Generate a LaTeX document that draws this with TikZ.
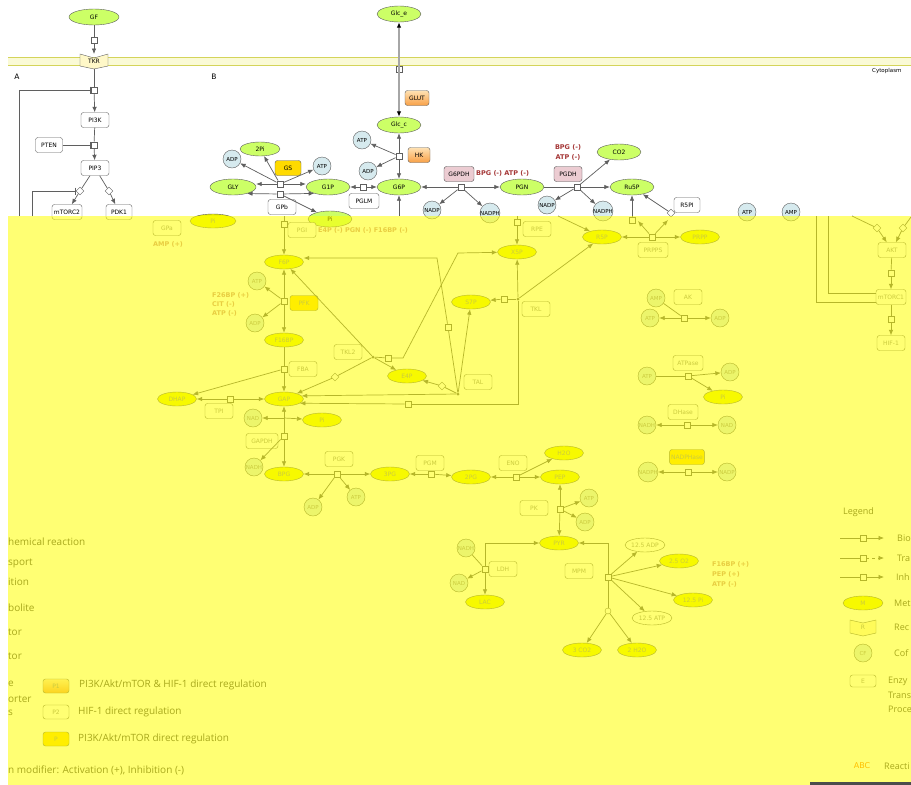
\documentclass[tikz,border=0pt]{standalone}
\usepackage{fontspec}
\setmainfont{DejaVu Sans}
\newfontfamily\legfont{Open Sans}
\usetikzlibrary{arrows.meta,shapes.geometric}

\definecolor{metab}{RGB}{204,255,102}
\definecolor{metabv}{RGB}{238,242,0}
\definecolor{cofac}{RGB}{214,234,238}
\definecolor{gold}{RGB}{255,218,0}
\definecolor{pinkenz}{RGB}{236,204,210}
\definecolor{orangetop}{RGB}{255,226,180}
\definecolor{orangebot}{RGB}{248,160,70}
\definecolor{modred}{RGB}{165,55,55}
\definecolor{membr}{RGB}{212,212,90}
\definecolor{membfill}{RGB}{250,250,214}
\definecolor{edge}{RGB}{95,95,95}
\definecolor{recfill}{RGB}{255,248,200}
\definecolor{veil}{RGB}{255,255,0}

\tikzset{
  met/.style={ellipse, draw=edge, fill=metab, minimum width=44pt, minimum height=16pt, inner sep=0pt, font=\fontsize{6}{7}\selectfont},
  metw/.style={met, fill=white},
  cof/.style={circle, draw=edge, fill=cofac, minimum size=18pt, inner sep=0pt, font=\fontsize{5.5}{6}\selectfont},
  enz/.style={rectangle, rounded corners=2.5pt, draw=edge, fill=white, minimum width=28pt, minimum height=15pt, inner sep=1.5pt, font=\fontsize{6}{7}\selectfont},
  enzg/.style={enz, fill=gold},
  enzo/.style={enz, top color=orangetop, bottom color=orangebot},
  enzp/.style={enz, fill=pinkenz, draw=black!70},
  rec/.style={rectangle, minimum width=28pt, minimum height=14pt, inner sep=0pt, font=\fontsize{6}{7}\selectfont},
  rx/.style={rectangle, draw=edge, fill=white, minimum size=6.5pt, inner sep=0pt},
  dmd/.style={diamond, draw=edge, fill=white, minimum size=8pt, inner sep=0pt},
  dot/.style={circle, fill=edge, minimum size=3pt, inner sep=0pt},
  mod/.style={text=modred, inner sep=0pt, font=\bfseries\fontsize{6.5}{7.5}\selectfont},
  ln/.style={draw=edge, line width=0.7pt},
  arr/.style={ln, -{Latex[length=5.5pt,width=4.5pt]}},
  inh/.style={ln, -{Bar[width=7pt]}},
  trans/.style={draw=gray!70, line width=1.3pt, {Latex[length=5.5pt,width=4.5pt,color=black]}-{Latex[length=5.5pt,width=4.5pt,color=black]}},
  leg/.style={anchor=west, inner sep=0pt, text=black!75, font=\legfont\fontsize{10}{12}\selectfont},
  legr/.style={leg, font=\legfont\fontsize{9}{11}\selectfont}
}

\begin{document}
\begin{tikzpicture}[x=1pt,y=-1pt]
\useasboundingbox[fill=white] (0,0) rectangle (911,785);

% membrane
\fill[membfill] (8,57) rectangle (911,65);
\draw[membr, line width=1pt] (8,57) -- (911,57) (8,65) -- (911,65);
\node[anchor=east, font=\fontsize{5.5}{6}\selectfont] (cyto) at (905,71) {Cytoplasm};
\node[font=\fontsize{7.5}{8}\selectfont] (labA) at (17,77) {A};
\node[font=\fontsize{7.5}{8}\selectfont] (labB) at (214,77) {B};

% A: growth factor signalling
\node[met, minimum width=50pt] (GF) at (94,17) {GF};
\node[rx] (rxA1) at (94,40) {};
\fill[recfill, draw=edge] (80,54) -- (94,58) -- (108,54) -- (108,66) -- (94,69) -- (80,66) -- cycle;
\node[rec] (TKR) at (94,61) {TKR};
\node[rx] (rxA2) at (94,90) {};
\node[enz] (PI3K) at (95,120) {PI3K};
\node[enz, minimum width=27pt] (PTEN) at (49,145) {PTEN};
\node[rx] (rxA3) at (94,145) {};
\node[enz] (PIP3) at (95,168) {PIP3};
\node[dmd] (dA1) at (80,191) {};
\node[dmd] (dA2) at (109,191) {};
\node[enz, minimum width=30pt] (mTORC2) at (67,212) {mTORC2};
\node[enz, minimum width=26pt] (PDK1) at (119,212) {PDK1};
\coordinate (fbA) at (19,216);
\coordinate (fbB) at (32,216);

\draw[ln] (GF) -- (rxA1);
\draw[arr] (rxA1) -- (94,54);
\draw[ln] (94,69) -- (rxA2);
\draw[arr] (rxA2) -- (PI3K);
\draw[inh] (fbA) |- (rxA2);
\draw[ln] (PI3K) -- (rxA3);
\draw[arr] (rxA3) -- (PIP3);
\draw[inh] (PTEN) -- (rxA3);
\draw[ln] (PIP3) -- (dA1);
\draw[arr] (dA1) -- (mTORC2);
\draw[ln] (PIP3) -- (dA2);
\draw[arr] (dA2) -- (PDK1);
\draw[inh] (fbB) |- (dA1);

% B: glucose uptake and glycogen
\node[met] (Glce) at (399,14) {Glc\_e};
\node[rx] (rxT) at (399,69) {};
\node[enzo, minimum width=24pt] (GLUT) at (417,98) {GLUT};
\node[met] (Glcc) at (399,125) {Glc\_c};
\node[rx] (rxHK) at (399,156) {};
\node[enzo, minimum width=22pt] (HK) at (419,155) {HK};
\node[cof] (ATP1) at (362,140) {ATP};
\node[cof] (ADP1) at (368,171) {ADP};
\node[met] (G6P) at (399,187) {G6P};
\coordinate (inG6P) at (399,216);
\node[rx] (rxPGLM) at (363,187) {};
\node[enz, minimum width=30pt] (PGLM) at (364,201) {PGLM};
\node[met] (G1P) at (328,187) {G1P};
\node[met, minimum width=46pt] (GLY) at (233,187) {GLY};
\node[rx] (rxGS) at (280,184) {};
\node[rx] (rxGP) at (280,194) {};
\node[enzg, minimum width=26pt] (GS) at (288,168) {GS};
\node[enz] (GPb) at (282,207) {GPb};
\node[cof] (ADP2) at (232,159) {ADP};
\node[met, minimum width=40pt, minimum height=14pt] (twoPi) at (260,149) {2Pi};
\node[cof] (ATP2) at (322,166) {ATP};
\node[met] (Pi1) at (330,219) {Pi};

\draw[trans] (Glce) -- (Glcc);
\draw[arr] (rxHK) -- (Glcc);
\draw[arr] (rxHK) -- (G6P);
\draw[arr] (rxHK) -- (ATP1);
\draw[arr] (rxHK) -- (ADP1);
\draw[arr] (inG6P) -- (G6P);
\draw[arr] (rxPGLM) -- (G1P);
\draw[arr] (rxPGLM) -- (G6P);
\draw[arr] (rxGS) -- (rxGS -| GLY.east);
\draw[arr] (rxGS) -- (rxGS -| G1P.west);
\draw[arr] (rxGP) -- (GLY.-25);
\draw[arr] (rxGP) -- (G1P.205);
\draw[arr] (rxGS) -- (ADP2);
\draw[arr] (rxGS) -- (twoPi);
\draw[arr] (rxGS) -- (ATP2);
\draw[arr] (rxGP) -- (Pi1);

% B: oxidative pentose phosphate branch
\node[enzp, minimum width=30pt] (G6PDH) at (459,174) {G6PDH};
\node[mod, anchor=west] (mG6PDH) at (476,173) {BPG (-) ATP (-)};
\node[rx] (rxG6PDH) at (461,187) {};
\node[cof] (NADP1) at (432,210) {NADP};
\node[cof] (NADPH1) at (490,213) {NADPH};
\node[met] (PGN) at (522,187) {PGN};
\node[enzp] (PGDH) at (568,174) {PGDH};
\node[mod] (mPGDH1) at (568,147) {BPG (-)};
\node[mod] (mPGDH2) at (568,157) {ATP (-)};
\node[rx] (rxPGDH) at (577,187) {};
\node[met] (CO2) at (619,152) {CO2};
\node[met] (Ru5P) at (632,187) {Ru5P};
\node[cof] (NADP2) at (547,205) {NADP};
\node[cof] (NADPH2) at (603,211) {NADPH};
\node[enz, minimum width=26pt] (R5PI) at (687,205) {R5PI};
\node[dmd] (dR5PI) at (671,213) {};
\node[rx] (rxRu) at (632,220) {};
\node[cof] (ATP3) at (747,212) {ATP};
\node[cof] (AMP1) at (791,212) {AMP};

\draw[arr] (rxG6PDH) -- (G6P);
\draw[arr] (rxG6PDH) -- (PGN);
\draw[arr] (rxG6PDH) -- (NADP1);
\draw[arr] (rxG6PDH) -- (NADPH1);
\draw[ln] (PGN) -- (rxPGDH);
\draw[arr] (rxPGDH) -- (Ru5P);
\draw[arr] (rxPGDH) -- (CO2);
\draw[arr] (rxPGDH) -- (NADP2);
\draw[arr] (rxPGDH) -- (NADPH2);
\draw[arr] (rxRu) -- (Ru5P);
\draw[arr] (dR5PI) -- (Ru5P);

\begin{scope}[every node/.append style={text=black!45},
  met/.append style={fill=metabv, minimum width=39pt, minimum height=14pt},
  mod/.append style={text=modred!55}]
% glycolysis (veiled part)
\node[enz] (GPa) at (167,228) {GPa};
\node[mod] (mGPa) at (168,244) {AMP (+)};
\node[met, minimum width=46pt] (Pi0) at (213,221) {Pi};
\node[rx] (rxPGI) at (284,224) {};
\coordinate (inPGI) at (284,216);
\node[enz] (PGI) at (302,230) {PGI};
\node[mod, anchor=west] (mPGI) at (318,230) {E4P (-) PGN (-) F16BP (-)};
\node[met] (F6P) at (284,262) {F6P};
\node[cof] (ATP4) at (257,281) {ATP};
\node[cof] (ADP4) at (255,323) {ADP};
\node[rx] (rxPFK) at (284,301) {};
\node[enzg] (PFK) at (304,303) {PFK};
\node[mod, anchor=west] (mPFK1) at (212,295) {F26BP (+)};
\node[mod, anchor=west] (mPFK2) at (212,304) {CIT (-)};
\node[mod, anchor=west] (mPFK3) at (212,313) {ATP (-)};
\node[met] (F16BP) at (284,340) {F16BP};
\node[rx] (rxFBA) at (284,369) {};
\node[enz] (FBA) at (303,369) {FBA};
\node[met] (DHAP) at (177,399) {DHAP};
\node[met] (GAP) at (284,399) {GAP};
\node[rx] (rxTPI) at (230,399) {};
\node[enz] (TPI) at (219,411) {TPI};
\coordinate (gpt) at (284,418);
\node[cof] (NAD1) at (253,418) {NAD};
\node[met] (Pi2) at (322,420) {Pi};
\node[rx] (rxGAPDH) at (284,436) {};
\node[enz, minimum width=32pt] (GAPDH) at (262,441) {GAPDH};
\node[cof] (NADH1) at (254,467) {NADH};
\node[met] (BPG) at (284,474) {BPG};
\node[rx] (rxPGK) at (337,474) {};
\node[enz] (PGK) at (339,459) {PGK};
\node[cof] (ADP5) at (313,507) {ADP};
\node[cof] (ATP5) at (356,497) {ATP};
\node[met] (threePG) at (390,474) {3PG};
\node[rx] (rxPGM) at (431,474) {};
\node[enz] (PGM) at (430,463) {PGM};
\node[met] (twoPG) at (471,477) {2PG};
\node[rx] (rxENO) at (516,477) {};
\node[enz] (ENO) at (513,463) {ENO};
\node[met] (H2O) at (564,453) {H2O};
\node[met] (PEP) at (560,477) {PEP};
\node[rx] (rxPK) at (560,509) {};
\node[enz] (PK) at (534,508) {PK};
\node[cof] (ATP6) at (589,498) {ATP};
\node[cof] (ADP6) at (585,522) {ADP};
\node[met] (PYR) at (559,543) {PYR};
\node[rx] (rxLDH) at (485,569) {};
\node[enz] (LDH) at (503,569) {LDH};
\node[met] (LAC) at (485,602) {LAC};
\node[cof] (NADH2) at (466,548) {NADH};
\node[cof] (NAD2) at (459,583) {NAD};
\node[rx] (rxMPM) at (608,577) {};
\node[enz] (MPM) at (579,571) {MPM};
\node[metw, minimum width=40pt] (ADP7) at (645,545) {12.5 ADP};
\node[met] (O2) at (679,561) {2.5 O2};
\node[met] (Pi3) at (693,600) {12.5 Pi};
\node[metw, minimum width=40pt] (ATP7) at (652,618) {12.5 ATP};
\node[circle, draw=edge, fill=white, minimum size=6pt, inner sep=0pt] (sMPM) at (608,611) {};
\node[met] (CO2b) at (582,650) {3 CO2};
\node[met] (H2Ob) at (637,650) {2 H2O};
\node[mod, anchor=west] (mMPM1) at (712,564) {F16BP (+)};
\node[mod, anchor=west] (mMPM2) at (712,574) {PEP (+)};
\node[mod, anchor=west] (mMPM3) at (712,584) {ATP (-)};

\draw[ln] (rxPGI) -- (inPGI);
\draw[arr] (rxPGI) -- (F6P);
\draw[arr] (rxPFK) -- (F6P);
\draw[arr] (rxPFK) -- (F16BP);
\draw[arr] (rxPFK) -- (ATP4);
\draw[arr] (rxPFK) -- (ADP4);
\draw[ln] (F16BP) -- (rxFBA);
\draw[arr] (rxFBA) -- (GAP);
\draw[arr] (rxFBA) -- (DHAP);
\draw[arr] (rxTPI) -- (DHAP);
\draw[arr] (rxTPI) -- (GAP);
\draw[arr] (rxGAPDH) -- (GAP);
\draw[arr] (gpt) -- (NAD1);
\draw[arr] (gpt) -- (Pi2);
\draw[arr] (rxGAPDH) -- (BPG);
\draw[arr] (rxGAPDH) -- (NADH1);
\draw[arr] (rxPGK) -- (BPG);
\draw[arr] (rxPGK) -- (threePG);
\draw[arr] (rxPGK) -- (ADP5);
\draw[arr] (rxPGK) -- (ATP5);
\draw[arr] (rxPGM) -- (threePG);
\draw[arr] (rxPGM) -- (twoPG);
\draw[arr] (rxENO) -- (twoPG);
\draw[arr] (rxENO) -- (PEP);
\draw[arr] (rxENO) -- (H2O);
\draw[arr] (rxPK) -- (PEP);
\draw[arr] (rxPK) -- (PYR);
\draw[arr] (rxPK) -- (ATP6);
\draw[arr] (rxPK) -- (ADP6);
\draw[arr] (rxLDH) |- (PYR);
\draw[arr] (rxLDH) -- (LAC);
\draw[ln] (NADH2) -- (rxLDH);
\draw[arr] (rxLDH) -- (NAD2);
\draw[arr] (rxMPM) |- (PYR);
\draw[arr] (rxMPM) -- (ADP7);
\draw[arr] (rxMPM) -- (O2);
\draw[arr] (rxMPM) -- (Pi3);
\draw[arr] (rxMPM) -- (ATP7);
\draw[ln] (rxMPM) -- (sMPM);
\draw[arr] (sMPM) -- (CO2b);
\draw[arr] (sMPM) -- (H2Ob);

% non-oxidative pentose phosphate branch (veiled part)
\node[rx] (rxRPE) at (517,222) {};
\coordinate (inRPE) at (517,216);
\node[enz] (RPE) at (537,229) {RPE};
\node[met] (X5P) at (517,252) {X5P};
\node[met] (R5P) at (602,237) {R5P};
\coordinate (inR5P) at (558,216);
\node[rx] (rxPRPPS) at (652,237) {};
\node[enz, minimum width=30pt] (PRPPS) at (653,250) {PRPPS};
\node[met] (PRPP) at (700,237) {PRPP};
\coordinate (upPRPPS1) at (638,221);
\coordinate (upPRPPS2) at (668,220);
\node[dot] (dTKL) at (518,299) {};
\node[enz] (TKL) at (536,309) {TKL};
\node[rx] (rxTKL) at (504,299) {};
\node[met] (S7P) at (471,302) {S7P};
\node[met] (E4P) at (407,376) {E4P};
\node[enz] (TAL) at (478,382) {TAL};
\node[dot] (dTAL) at (458,394) {};
\node[dmd] (dmTAL) at (442,386) {};
\node[rx] (rxTAL) at (448,327) {};
\coordinate (kTAL) at (437,258);
\node[enz] (TKL2) at (348,352) {TKL2};
\node[dot] (dTKL2) at (373,357) {};
\node[rx] (rxTKL2) at (388,358) {};
\coordinate (kTKL2a) at (403,358);
\coordinate (kTKL2b) at (458,253);
\node[dmd] (dmTKL2) at (335,377) {};
\node[rx] (rxGAPb) at (408,404) {};

\draw[ln] (inRPE) -- (rxRPE);
\draw[arr] (rxRPE) -- (X5P);
\draw[arr] (inR5P) -- (R5P);
\draw[arr] (rxPRPPS) -- (R5P);
\draw[arr] (rxPRPPS) -- (PRPP);
\draw[arr] (rxPRPPS) -- (upPRPPS1);
\draw[arr] (rxPRPPS) -- (upPRPPS2);
\draw[arr] (dTKL) -- (X5P);
\draw[arr] (dTKL) -- (R5P);
\draw[ln] (dTKL) -- (rxTKL);
\draw[arr] (rxTKL) -- (S7P);
\draw[ln] (dTKL) |- (rxGAPb);
\draw[arr] (rxGAPb) -- (GAP.-15);
\draw[ln] (dTAL) -- (rxTAL);
\draw[arr] (rxTAL) -- (kTAL) -- (kTAL -| F6P.east);
\draw[arr] (dTAL) -- (S7P);
\draw[ln] (dTAL) -- (dmTAL);
\draw[arr] (dmTAL) -- (E4P);
\draw[arr] (dTAL) -- (GAP.10);
\draw[arr] (dTKL2) -- (F6P);
\draw[arr] (dTKL2) -- (E4P);
\draw[ln] (dTKL2) -- (dmTKL2);
\draw[arr] (dmTKL2) -- (GAP);
\draw[ln] (dTKL2) -- (rxTKL2);
\draw[arr] (rxTKL2) -- (kTKL2a) -- (kTKL2b) -- (X5P);

% energy and redox cofactors (veiled part)
\node[cof] (AMP2) at (656,298) {AMP};
\node[cof] (ATP8) at (650,318) {ATP};
\node[enz] (AK) at (688,297) {AK};
\node[rx] (rxAK) at (684,318) {};
\node[cof] (ADP8) at (720,318) {ADP};
\node[cof] (ATP9) at (647,376) {ATP};
\node[enz, minimum width=30pt] (ATPase) at (688,363) {ATPase};
\node[rx] (rxATPase) at (688,376) {};
\node[cof] (ADP9) at (730,372) {ADP};
\node[met] (Pi4) at (723,397) {Pi};
\node[enz, minimum width=30pt] (DHase) at (683,412) {DHase};
\node[rx] (rxDH) at (687,425) {};
\node[cof] (NADH3) at (647,425) {NADH};
\node[cof] (NAD3) at (727,425) {NAD};
\node[enzg, minimum width=34pt] (NOX) at (687,457) {NADPHase};
\node[rx] (rxNOX) at (688,472) {};
\node[cof] (NADPH3) at (648,472) {NADPH};
\node[cof] (NADP3) at (727,472) {NADP};

\draw[ln] (AMP2) -- (rxAK);
\draw[arr] (rxAK) -- (ATP8);
\draw[arr] (rxAK) -- (ADP8);
\draw[ln] (ATP9) -- (rxATPase);
\draw[arr] (rxATPase) -- (ADP9);
\draw[arr] (rxATPase) -- (Pi4);
\draw[arr] (rxDH) -- (NADH3);
\draw[arr] (rxDH) -- (NAD3);
\draw[arr] (rxNOX) -- (NADPH3);
\draw[arr] (rxNOX) -- (NADP3);

% Akt / mTORC1 / HIF-1 (veiled part)
\node[enz] (AKT) at (892,250) {AKT};
\node[rx] (rxAKT) at (891,273) {};
\node[enz, minimum width=30pt] (mTORC1) at (891,297) {mTORC1};
\node[rx] (rxmT) at (891,319) {};
\node[enz] (HIF1) at (891,343) {HIF-1};
\node[dmd] (dAKT1) at (877,228) {};
\node[dmd] (dAKT2) at (903,228) {};
\coordinate (inAKT1) at (852,216);
\coordinate (inAKT2) at (911,217);
\coordinate (fbC) at (816,216);
\coordinate (fbD) at (828,216);
\draw[ln] (inAKT1) -- (dAKT1);
\draw[arr] (dAKT1) -- (AKT);
\draw[ln] (inAKT2) -- (dAKT2);
\draw[arr] (dAKT2) -- (AKT);
\draw[ln] (AKT) -- (rxAKT);
\draw[arr] (rxAKT) -- (mTORC1);
\draw[ln] (mTORC1) -- (rxmT);
\draw[arr] (rxmT) -- (HIF1);
\draw[ln] (fbC) |- (mTORC1.200);
\draw[ln] (fbD) |- (mTORC1.165);

% legend (veiled part)
\node[leg] (lg1) at (8,542) {hemical reaction};
\node[leg] (lg2) at (8,563) {sport};
\node[leg] (lg3) at (8,582) {ition};
\node[leg] (lg4) at (8,608) {bolite};
\node[leg] (lg5) at (8,632) {tor};
\node[leg] (lg6) at (8,656) {tor};
\node[leg] (lg7) at (8,684) {e};
\node[leg] (lg8) at (8,699) {orter};
\node[leg] (lg9) at (8,713) {s};
\node[leg] (lg10) at (8,770) {n modifier: Activation (+), Inhibition (-)};
\node[enzo, minimum width=26pt, minimum height=14pt] (P1) at (56,686) {P1};
\node[leg] (tP1) at (79,685) {PI3K/Akt/mTOR \& HIF-1 direct regulation};
\node[enz, minimum width=26pt, minimum height=14pt] (P2) at (56,712) {P2};
\node[leg] (tP2) at (78,712) {HIF-1 direct regulation};
\node[enzg, minimum width=26pt, minimum height=14pt] (P3) at (56,739) {P};
\node[leg] (tP3) at (78,739) {PI3K/Akt/mTOR direct regulation};

\node[legr] (lgT) at (843,512) {Legend};
\coordinate (l1a) at (840,538);
\node[rx] (l1r) at (863,538) {};
\coordinate (l1b) at (884,538);
\draw[ln] (l1a) -- (l1r);
\draw[arr] (l1r) -- (l1b);
\node[legr] (lg11) at (897,538) {Bio};
\coordinate (l2a) at (840,558);
\node[rx] (l2r) at (863,558) {};
\coordinate (l2b) at (884,558);
\draw[ln] (l2a) -- (l2r);
\draw[arr, dashed] (l2r) -- (l2b);
\node[legr] (lg12) at (897,558) {Tra};
\coordinate (l3a) at (840,577);
\node[rx] (l3r) at (863,577) {};
\coordinate (l3b) at (884,577);
\draw[ln] (l3a) -- (l3r);
\draw[arr] (l3r) -- (l3b);
\node[legr] (lg13) at (896,577) {Inh};
\node[met, minimum width=40pt, minimum height=14pt] (lM) at (863,603) {M};
\node[legr] (lg14) at (894,603) {Met};
\fill[recfill, draw=edge] (850,620) -- (863,623) -- (876,620) -- (876,633) -- (863,636) -- (850,633) -- cycle;
\node[rec] (lR) at (863,627) {R};
\node[legr] (lg15) at (894,627) {Rec};
\node[cof] (lCF) at (863,653) {CF};
\node[legr] (lg16) at (894,653) {Cof};
\node[enz, minimum width=26pt, minimum height=12pt] (lE) at (863,681) {E};
\node[legr] (lg17) at (888,681) {Enzy};
\node[legr] (lg18) at (888,695) {Trans};
\node[legr] (lg19) at (888,709) {Proce};
\node[mod, font=\fontsize{8}{9}\selectfont, text=orange!90!red] (lABC) at (862,766) {ABC};
\node[legr] (lg20) at (884,766) {Reacti};
\end{scope}

% veil over the lower part
\fill[veil, opacity=0.55] (8,216) rectangle (911,785);
\fill[black!70] (810,782) rectangle (911,785);
\end{tikzpicture}
\end{document}
